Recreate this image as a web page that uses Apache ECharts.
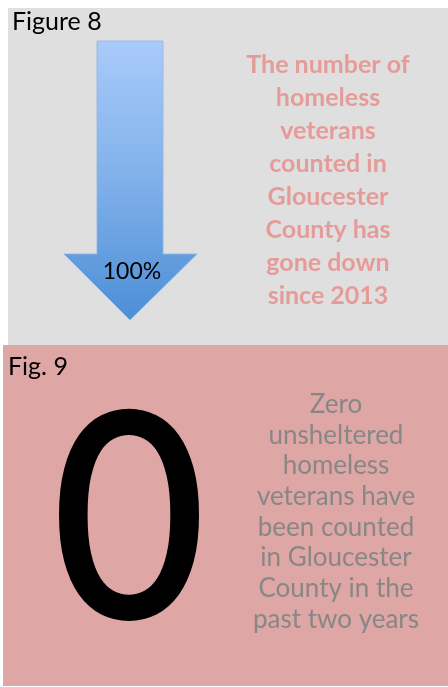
<!DOCTYPE html>
<html><head><meta charset="utf-8">
<script src="https://cdn.jsdelivr.net/npm/echarts@6/dist/echarts.min.js"></script>
<style>html,body{margin:0;padding:0;background:#fff}#c{width:448px;height:687px}</style>
</head><body><div id="c"></div>
<script>
// ---- data ----
const fig8Title = 'Figure 8';
const fig8Decline = [100]; // percent decrease since 2013
const fig8Lines = ['The number of','homeless','veterans','counted in','Gloucester','County has','gone down','since 2013'];
const fig9Title = 'Fig. 9';
const fig9Count = [0]; // unsheltered homeless veterans counted
const fig9Lines = ['Zero','unsheltered','homeless','veterans have','been counted','in Gloucester','County in the','past two years'];

const FONT = 'Lato, "Open Sans", sans-serif';
const chart = echarts.init(document.getElementById('c'));

chart.setOption({
  backgroundColor: '#ffffff',
  animation: false,
  graphic: [
    // panels
    { type: 'rect', shape: { x: 8, y: 8, width: 440, height: 337 }, style: { fill: '#dfdfdf' } },
    { type: 'rect', shape: { x: 3, y: 345, width: 445, height: 341 }, style: { fill: '#dea6a4' } },
    // Figure 8 title
    { type: 'text', x: 12, y: 22, style: { text: fig8Title, font: '400 25px ' + FONT, fill: '#000', textVerticalAlign: 'middle' } },
    // arrow
    { type: 'polygon',
      shape: { points: [[97,41],[163,41],[163,254],[197,254],[130,320],[64,254],[97,254]] },
      style: { fill: new echarts.graphic.LinearGradient(0,0,0,1,[{offset:0,color:'#a9cbfa'},{offset:0.5,color:'#80b0ea'},{offset:1,color:'#4c8ed6'}]), stroke: '#8db3e2', lineWidth: 0.8 } },
    { type: 'text', x: 132, y: 272, style: { text: fig8Decline[0] + '%', font: '400 23px ' + FONT, fill: '#000', textAlign: 'center', textVerticalAlign: 'middle' } },
    // Figure 8 text
    { type: 'text', x: 328, y: 180, style: { text: fig8Lines.join('\n'), font: '700 25px ' + FONT, lineHeight: 33, fill: '#e59c99', textAlign: 'center', textVerticalAlign: 'middle' } },
    // Fig 9
    { type: 'text', x: 8, y: 367, style: { text: fig9Title, font: '400 25px ' + FONT, fill: '#000', textVerticalAlign: 'middle' } },
    { type: 'text', x: 129, y: 525, scaleX: 0.92, style: { text: String(fig9Count[0]), font: '400 283px ' + FONT, fill: '#000', stroke: '#000', lineWidth: 5, textAlign: 'center', textVerticalAlign: 'middle' } },
    { type: 'text', x: 336, y: 512, style: { text: fig9Lines.join('\n'), font: '400 26px ' + FONT, lineHeight: 30.7, fill: '#878787', textAlign: 'center', textVerticalAlign: 'middle' } }
  ]
});
</script></body></html>
